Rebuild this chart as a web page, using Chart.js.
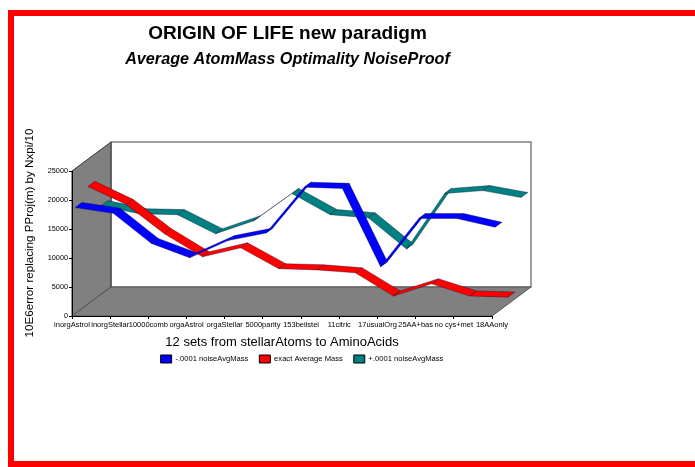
<!DOCTYPE html>
<html>
<head>
<meta charset="utf-8">
<script src="https://cdn.jsdelivr.net/npm/chart.js@4"></script>
<style>
    html, body { margin: 0; background: #fff; overflow: hidden; }
    #frame { position: absolute; left: 8px; top: 10px; width: 800px; height: 457px; border: 6px solid #f00; box-sizing: border-box; }
    #wrap { position: absolute; left: 0; top: 0; width: 695px; height: 467px; }
</style>
</head>
<body>
<div id="frame"></div>
<div id="wrap"><canvas id="chart" width="695" height="467"></canvas></div>
<script>
const categories = ["inorgAstrol", "inorgStellar", "10000comb", "orgaAstrol", "orgaStellar", "5000parity",
    "153beilstei", "11citric", "17usualOrg", "25AA+bas", "no cys+met", "18AAonly"];
const lowNoise = [18300, 17300, 12100, 9650, 12600, 13900, 21800, 21600, 8100, 16400, 16400, 14900];
const exactMass = [20300, 17200, 12150, 8150, 9700, 6100, 5900, 5400, 1400, 3500, 1400, 1200];
const highNoise = [15300, 13900, 13750, 10450, 12700, 17400, 13750, 13200, 7850, 17400, 17900, 16700];

const FONT = "'Liberation Sans', Arial, sans-serif";
const DEPTH_X = 39;
const DEPTH_Y = 29;
// where each ribbon sits inside the 3d depth, front to back
const slots = [[0.08, 0.255], [0.41, 0.585], [0.745, 0.92]];

function poly(ctx, pts, fill, stroke, width) {
    ctx.beginPath();
    pts.forEach((p, i) => i ? ctx.lineTo(p[0], p[1]) : ctx.moveTo(p[0], p[1]));
    ctx.closePath();
    if (fill) { ctx.fillStyle = fill; ctx.fill(); }
    if (stroke) { ctx.strokeStyle = stroke; ctx.lineWidth = width || 1; ctx.stroke(); }
}

const walls = {
    id: "walls",
    beforeDraw(chart) {
        const { ctx, chartArea: a } = chart;
        ctx.save();
        // back wall
        poly(ctx, [[a.left + DEPTH_X, a.top - DEPTH_Y], [a.right + DEPTH_X, a.top - DEPTH_Y],
            [a.right + DEPTH_X, a.bottom - DEPTH_Y], [a.left + DEPTH_X, a.bottom - DEPTH_Y]], "#fff", "#808080", 1.5);
        // side wall
        poly(ctx, [[a.left, a.bottom], [a.left, a.top], [a.left + DEPTH_X, a.top - DEPTH_Y],
            [a.left + DEPTH_X, a.bottom - DEPTH_Y]], "#808080", "#333", 1);
        // floor
        poly(ctx, [[a.left, a.bottom], [a.left + DEPTH_X, a.bottom - DEPTH_Y],
            [a.right + DEPTH_X, a.bottom - DEPTH_Y], [a.right, a.bottom]], "#808080", "#555", 1);
        ctx.restore();
    }
};

const ribbons = {
    id: "ribbons",
    afterDatasetsDraw(chart) {
        const ctx = chart.ctx;
        ctx.save();
        ctx.lineJoin = "round";
        for (let d = chart.data.datasets.length - 1; d >= 0; d--) {
            const pts = chart.getDatasetMeta(d).data;
            const [s0, s1] = slots[d];
            for (let i = 0; i < pts.length - 1; i++) {
                const a = pts[i], b = pts[i + 1];
                poly(ctx, [
                    [a.x + s0 * DEPTH_X, a.y - s0 * DEPTH_Y],
                    [b.x + s0 * DEPTH_X, b.y - s0 * DEPTH_Y],
                    [b.x + s1 * DEPTH_X, b.y - s1 * DEPTH_Y],
                    [a.x + s1 * DEPTH_X, a.y - s1 * DEPTH_Y]
                ], chart.data.datasets[d].backgroundColor, "rgba(0,0,40,0.45)", 0.8);
            }
        }
        ctx.restore();
    }
};

// y title sits higher than the middle of the axis in the original
const yTitle = {
    id: "yTitle",
    afterDraw(chart) {
        const ctx = chart.ctx;
        ctx.save();
        ctx.translate(30, 233);
        ctx.rotate(-Math.PI / 2);
        ctx.fillStyle = "#000";
        ctx.textAlign = "center";
        ctx.textBaseline = "middle";
        ctx.font = "11.6px " + FONT;
        ctx.fillText("10E6error replacing PProj(m) by Nxpi/10", 0, 0);
        ctx.restore();
    }
};

// titles and legend are off centre in the original
const nudge = {
    id: "nudge",
    afterLayout(chart) {
        chart.boxes.filter(b => b.position === "top").forEach(b => {
            b.left += 5.5;
            b.right += 5.5;
        });
        chart.legend.left += 20;
        chart.legend.right += 20;
    }
};

new Chart(document.getElementById("chart"), {
    type: "line",
    data: {
        labels: categories,
        datasets: [
            { label: "-.0001 noiseAvgMass", data: lowNoise, backgroundColor: "#0000ff" },
            { label: "exact Average Mass", data: exactMass, backgroundColor: "#ff0000" },
            { label: "+.0001 noiseAvgMass", data: highNoise, backgroundColor: "#008080" }
        ].map(ds => ({ ...ds, borderColor: "#000", borderWidth: 1, showLine: false, pointRadius: 0 }))
    },
    options: {
        responsive: false,
        animation: false,
        layout: { padding: { top: 0, bottom: 94, left: 0, right: 203 } },
        plugins: {
            title: {
                display: true,
                text: "ORIGIN OF LIFE new paradigm",
                fullSize: false,
                color: "#000",
                font: { family: FONT, size: 19, weight: "bold" },
                padding: { top: 22.6, bottom: 4 }
            },
            subtitle: {
                display: true,
                text: "Average AtomMass Optimality NoiseProof",
                fullSize: false,
                color: "#000",
                font: { family: FONT, size: 16.2, weight: "bold", style: "italic" },
                padding: { top: 0, bottom: 102.2 }
            },
            tooltip: { enabled: false },
            legend: {
                position: "bottom",
                fullSize: false,
                labels: { boxWidth: 11, boxHeight: 8, padding: 11, color: "#000", font: { family: FONT, size: 7.6 } }
            }
        },
        scales: {
            x: {
                offset: false,
                afterFit: s => { s.height = 28; },
                grid: { drawOnChartArea: false, color: "#000", tickLength: 3 },
                border: { color: "#000" },
                ticks: { autoSkip: false, maxRotation: 0, padding: 1, color: "#000", font: { family: FONT, size: 7.5 } },
                title: { display: true, text: "12 sets from stellarAtoms to AminoAcids", color: "#000", font: { family: FONT, size: 13 }, padding: { top: 0, bottom: -5.8 } }
            },
            y: {
                min: 0,
                max: 25000,
                afterFit: s => { s.width = 72; },
                grid: { drawOnChartArea: false, color: "#000", tickLength: 3 },
                border: { color: "#000" },
                ticks: { stepSize: 5000, padding: 1, color: "#000", font: { family: FONT, size: 7.3 }, callback: v => String(v) }
            }
        }
    },
    plugins: [walls, ribbons, yTitle, nudge]
});
</script>
</body>
</html>
